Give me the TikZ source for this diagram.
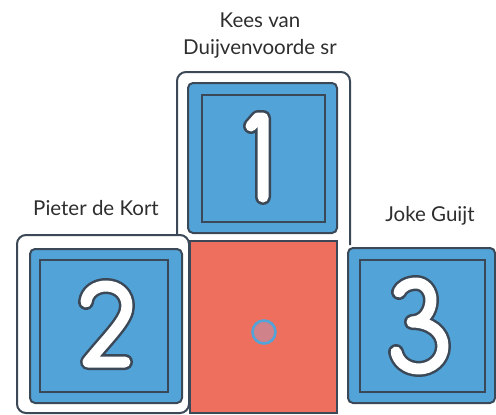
\documentclass[tikz,border=0pt]{standalone}
\usepackage{fontspec}
\setmainfont{Lato}
\definecolor{ink}{HTML}{3B4857}
\definecolor{blu}{HTML}{52A3D8}
\definecolor{rd}{HTML}{EF6F5E}
\definecolor{dotc}{HTML}{D0828A}
\definecolor{txt}{HTML}{2E2E2E}
\begin{document}
\begin{tikzpicture}[x=1pt,y=-1pt,
  lbl/.style={font=\fontsize{20.5}{27}\selectfont, text=txt, inner sep=0pt, align=center},
  framebox/.style={draw=ink, line width=2pt, fill=white, rounded corners=9pt},
  bluebox/.style={draw=ink, line width=2pt, fill=blu, rounded corners=5pt},
  innerbox/.style={draw=ink, line width=1.6pt},
  digdark/.style={draw=ink, line width=16pt, line cap=round, line join=round},
  diglight/.style={draw=white, line width=11pt, line cap=round, line join=round}]
\useasboundingbox (0,0) rectangle (496,415);
% frame 1 (open at bottom)
\draw[framebox, fill=none] (177,238) -- (177,72) -- (350,72) -- (350,245);
% blue 1
\draw[bluebox] (188,83) rectangle (337,233);
\draw[innerbox] (202,95) rectangle (325,222);
\draw[digdark] (251,126) -- (258,118) -- (263,118) -- (263,197);
\draw[diglight] (251,126) -- (258,118) -- (263,118) -- (263,197);
% frame 2
\draw[framebox] (17,235) rectangle (189,413);
\draw[bluebox] (30,249) rectangle (182,403);
\draw[innerbox] (40,260) rectangle (168,392);
\def\pathtwo{(86,302) .. controls (87,292) and (96,286) .. (106,286) .. controls (118,286) and (127,294) .. (127,306) .. controls (127,320) and (110,335) .. (88,362) -- (125,362)}
\draw[digdark] \pathtwo;
\draw[diglight] \pathtwo;
% red square
\draw[draw=ink, line width=1.4pt, fill=rd] (190,241) rectangle (337,413);
\draw[draw=blu, line width=2.6pt, fill=dotc] (264,332) circle (11.5);
% blue 3
\draw[bluebox] (348,248) rectangle (495,403);
\draw[innerbox] (360,260) rectangle (485,392);
\def\paththree{(399,292) .. controls (401,287) and (408,283) .. (416,283) .. controls (425,283) and (431,291) .. (431,300) .. controls (431,312) and (423,322) .. (412,322) .. controls (430,322) and (443,332) .. (443,346) .. controls (443,360) and (431,369) .. (419,369) .. controls (406,369) and (398,361) .. (396,352)}
\draw[digdark] \paththree;
\draw[diglight] \paththree;
% labels
\node[lbl] (n1) at (260,36) {Kees van\\Duijvenvoorde sr};
\node[lbl] (n2) at (96,208) {Pieter de Kort};
\node[lbl] (n3) at (430,216) {Joke Guijt};
\end{tikzpicture}
\end{document}
